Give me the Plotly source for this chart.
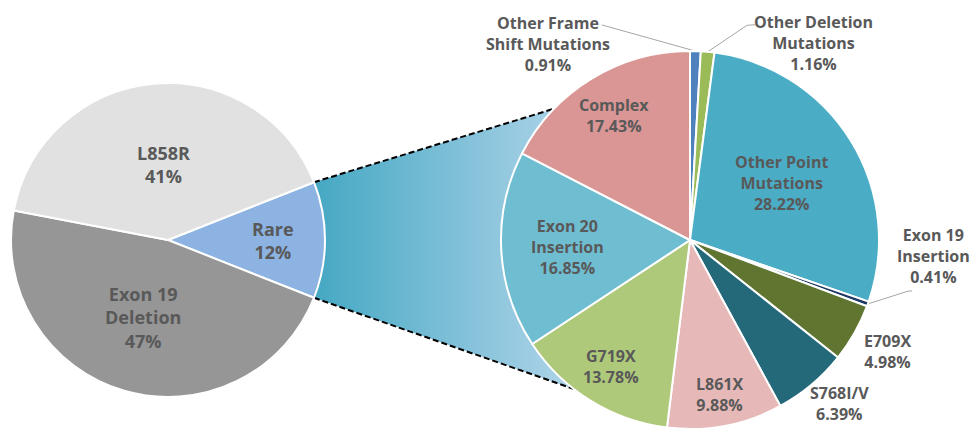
import math
import plotly.graph_objects as go

# ---------------- data ----------------
main_labels = ["Rare", "Exon 19<br>Deletion", "L858R"]
main_values = [12, 47, 41]
main_colors = ["#8DB3E2", "#969696", "#E1E1E1"]

rare_labels = ["Other Frame<br>Shift Mutations", "Other Deletion<br>Mutations",
               "Other Point<br>Mutations", "Exon 19<br>Insertion", "E709X",
               "S768I/V", "L861X", "G719X", "Exon 20<br>Insertion", "Complex"]
rare_values = [0.91, 1.16, 28.22, 0.41, 4.98, 6.39, 9.88, 13.78, 16.85, 17.43]
rare_colors = ["#4F81BD", "#9BBB59", "#4BACC6", "#1F3864", "#5F7530",
               "#23697A", "#E6B9B8", "#AFC97A", "#6FBDD1", "#D99694"]

# ---------------- geometry ----------------
W, H = 971, 429
LP = dict(cx=168, cy=240, r=157)   # main pie (pixels)
RP = dict(cx=690, cy=240, r=189)   # rare breakdown pie (pixels)

def domain(p):
    return dict(x=[(p["cx"] - p["r"]) / W, (p["cx"] + p["r"]) / W],
                y=[(H - p["cy"] - p["r"]) / H, (H - p["cy"] + p["r"]) / H])

def polar(p, ang, f):
    a = math.radians(ang)
    return p["cx"] + f * p["r"] * math.sin(a), p["cy"] - f * p["r"] * math.cos(a)

def mid_angles(values, rotation):
    tot = sum(values)
    out, acc = [], rotation
    for v in values:
        span = 360 * v / tot
        out.append(acc + span / 2)
        acc += span
    return out

main_rot = 90 - 360 * main_values[0] / sum(main_values) / 2
rare_rot = 0
main_mid = mid_angles(main_values, main_rot)
rare_mid = mid_angles(rare_values, rare_rot)

half = 360 * main_values[0] / sum(main_values) / 2
top_l = polar(LP, 90 - half, 1.0)
bot_l = polar(LP, 90 + half, 1.0)
top_r = polar(RP, 314, 1.0)
bot_r = polar(RP, 218, 1.0)

fig = go.Figure()

# connector band with gradient
fig.add_trace(go.Scatter(
    x=[top_l[0], top_r[0], bot_r[0], bot_l[0], top_l[0]],
    y=[top_l[1], top_r[1], bot_r[1], bot_l[1], top_l[1]],
    mode="lines", fill="toself", line=dict(width=0),
    fillgradient=dict(type="horizontal",
                      colorscale=[[0, "#45A8C3"], [1, "#AFD4E9"]]),
    hoverinfo="skip", showlegend=False))

# dashed connector lines
for a, b in [(top_l, top_r), (bot_l, bot_r)]:
    fig.add_trace(go.Scatter(x=[a[0], b[0]], y=[a[1], b[1]], mode="lines",
                             line=dict(color="black", width=2, dash="6px,3px"),
                             hoverinfo="skip", showlegend=False))

# leader lines for outside labels: (index, [(angle, f), ...])
leaders = {
    0: [(337.7, 1.23)],
    1: [(14.85, 1.175), (16.8, 1.19)],
    3: [(103.2, 1.185), (102.9, 1.206)],
}
for i, pts in leaders.items():
    p0 = polar(RP, rare_mid[i], 1.0)
    xs = [p0[0]] + [polar(RP, a, f)[0] for a, f in pts]
    ys = [p0[1]] + [polar(RP, a, f)[1] for a, f in pts]
    fig.add_trace(go.Scatter(x=xs, y=ys, mode="lines",
                             line=dict(color="#A6A6A6", width=1),
                             hoverinfo="skip", showlegend=False))

fig.add_trace(go.Pie(values=main_values, labels=main_labels, sort=False,
                     direction="clockwise", rotation=main_rot,
                     marker=dict(colors=main_colors, line=dict(color="white", width=2)),
                     textinfo="none", hoverinfo="skip", domain=domain(LP)))
fig.add_trace(go.Pie(values=rare_values, labels=["r" + l for l in rare_labels], sort=False,
                     direction="clockwise", rotation=rare_rot,
                     marker=dict(colors=rare_colors, line=dict(color="white", width=2)),
                     textinfo="none", hoverinfo="skip", domain=domain(RP)))

font_main = dict(family="Open Sans", size=18, color="#595959", weight="bold")
font = dict(family="Open Sans", size=16, color="#595959", weight="bold")

# label placement (angle override or None, radius factor)
main_pos = [(None, 0.67), (198, 0.52), (356.2, 0.48)]
rare_pos = [(324.1, 1.28), (32, 1.23), (None, 0.57), (93.8, 1.29), (None, 1.2),
            (137.5, 1.17), (None, 0.83), (None, 0.79), (None, 0.65), (None, 0.77)]

annotations = []
for lab, v, m, (ang, f) in zip(main_labels, main_values, main_mid, main_pos):
    x, y = polar(LP, m if ang is None else ang, f)
    annotations.append(dict(x=x, y=y, xref="x", yref="y", text=f"{lab}<br>{v}%",
                            showarrow=False, font=font_main, xanchor="center", yanchor="middle"))
for lab, v, m, (ang, f) in zip(rare_labels, rare_values, rare_mid, rare_pos):
    x, y = polar(RP, m if ang is None else ang, f)
    annotations.append(dict(x=x, y=y, xref="x", yref="y", text=f"{lab}<br>{v:.2f}%",
                            showarrow=False, font=font, xanchor="center", yanchor="middle"))

fig.update_layout(
    width=W, height=H, margin=dict(l=0, r=0, t=0, b=0, pad=0),
    paper_bgcolor="white", plot_bgcolor="white", showlegend=False,
    xaxis=dict(range=[0, W], visible=False, fixedrange=True),
    yaxis=dict(range=[H, 0], visible=False, fixedrange=True),
    annotations=annotations,
)

fig.write_html("out.html", config={"displayModeBar": False},
               post_script="document.body.style.margin='0';")
